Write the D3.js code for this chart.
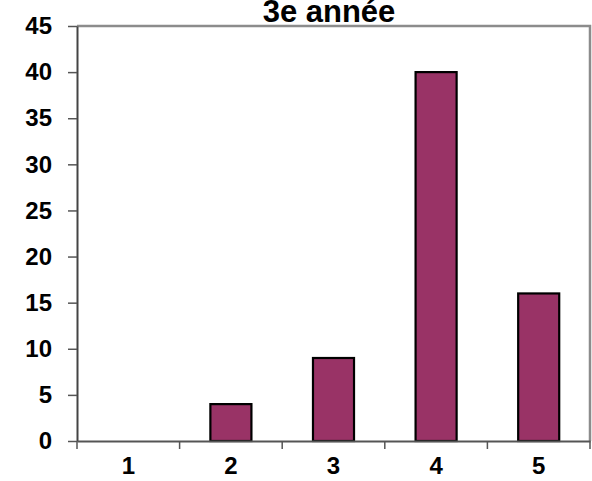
<!DOCTYPE html>
<html>
<head>
<meta charset="utf-8">
<script src="https://cdn.jsdelivr.net/npm/d3@7"></script>
<style>
  body { margin: 0; background: #fff; }
  svg { display: block; font-family: "Liberation Sans", Arial, sans-serif; }
</style>
</head>
<body>
<div id="chart"></div>
<script>
// データ
const categories = ["1", "2", "3", "4", "5"];
const values = [0, 4, 9, 40, 16];
const yTicks = [0, 5, 10, 15, 20, 25, 30, 35, 40, 45];
const title = "3e année";

const width = 592, height = 481;
const margin = { top: 26, right: 2, bottom: 40, left: 77 };
const plotW = width - margin.left - margin.right;
const plotH = height - margin.top - margin.bottom;

const svg = d3.select("#chart").append("svg")
  .attr("width", width)
  .attr("height", height);

const x = d3.scaleBand().domain(categories).range([0, plotW]).padding(0);
const y = d3.scaleLinear().domain([0, 45]).range([plotH, 0]);

const g = svg.append("g").attr("transform", `translate(${margin.left},${margin.top})`);

// 枠線（上・右）
g.append("path")
  .attr("d", `M0,0H${plotW}V${plotH}`)
  .attr("fill", "none")
  .attr("stroke", "#8c8c8c")
  .attr("stroke-width", 2.5);

// 棒
const barW = x.bandwidth() * 0.4;
g.append("g")
  .selectAll("rect")
  .data(values)
  .join("rect")
    .attr("x", (d, i) => x(categories[i]) + (x.bandwidth() - barW) / 2)
    .attr("y", d => y(d))
    .attr("width", barW)
    .attr("height", d => y(0) - y(d))
    .attr("fill", "#993366")
    .attr("stroke", "#000")
    .attr("stroke-width", 2.2)
    .attr("display", d => d > 0 ? null : "none");

// Y軸
const yAxis = g.append("g")
  .call(d3.axisLeft(y).tickValues(yTicks).tickSize(9).tickSizeOuter(0).tickPadding(16));
yAxis.select(".domain").attr("stroke", "#444").attr("stroke-width", 2);
yAxis.selectAll(".tick line").attr("stroke", "#555").attr("stroke-width", 1.5);
yAxis.selectAll("text")
  .attr("font-size", 24)
  .attr("font-weight", "bold")
  .attr("fill", "#000");

// X軸（ラベルは中央、目盛りは区切り）
const xAxis = g.append("g")
  .attr("transform", `translate(0,${plotH})`)
  .call(d3.axisBottom(x).tickSize(0).tickPadding(16));
xAxis.select(".domain").attr("stroke", "#555").attr("stroke-width", 2);
xAxis.selectAll("text")
  .attr("font-size", 24)
  .attr("font-weight", "bold")
  .attr("fill", "#000");

const edges = categories.map(c => x(c)).concat([plotW]);
xAxis.selectAll("line.edge")
  .data(edges)
  .join("line")
    .attr("class", "edge")
    .attr("x1", d => d).attr("x2", d => d)
    .attr("y1", 0).attr("y2", 8)
    .attr("stroke", "#555")
    .attr("stroke-width", 1.5);

// タイトル
svg.append("text")
  .attr("x", 329)
  .attr("y", 22)
  .attr("text-anchor", "middle")
  .attr("font-size", 31)
  .attr("font-weight", "bold")
  .attr("fill", "#000")
  .text(title);
</script>
</body>
</html>
